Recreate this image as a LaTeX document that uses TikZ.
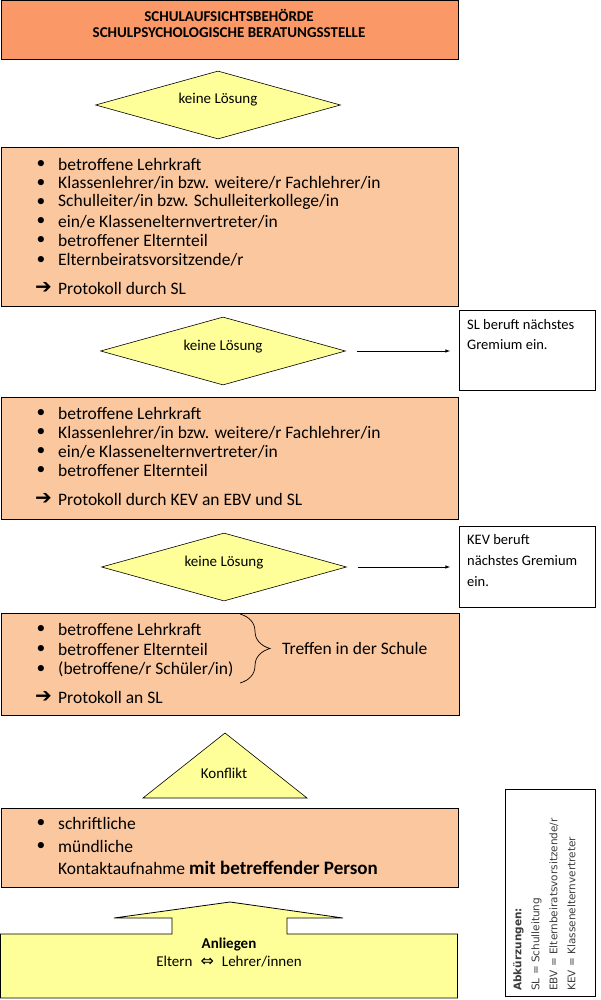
\documentclass[tikz,border=0pt]{standalone}
\usepackage{fontspec}
\setmainfont{Carlito}
\newfontfamily\dejavu{DejaVu Sans}
\usetikzlibrary{shapes.geometric}
\usetikzlibrary{decorations.pathreplacing}
\definecolor{dunkelorange}{RGB}{250,152,103}
\definecolor{hellorange}{RGB}{251,199,158}
\definecolor{hellgelb}{RGB}{255,255,153}
\definecolor{abkgrau}{RGB}{60,60,60}

\begin{document}
\begin{tikzpicture}[x=1pt,y=-1pt,
  kasten/.style={draw=black,line width=0.8pt,anchor=north west,inner sep=0pt},
  raute/.style={diamond,draw=black,line width=0.6pt,fill=hellgelb,inner sep=0pt,minimum width=245pt,minimum height=68pt},
  listtext/.style={anchor=west,inner sep=0pt,font=\fontsize{17.5}{20}\selectfont},
  punkt/.style={inner sep=0pt,font=\fontsize{17.5}{20}\selectfont},
  pfeiltext/.style={anchor=west,inner sep=0pt,font=\dejavu\bfseries\fontsize{20}{22}\selectfont},
  klein/.style={inner sep=0pt,font=\fontsize{15}{18}\selectfont},
  hinweistext/.style={anchor=west,inner sep=0pt,font=\fontsize{14.5}{17}\selectfont}]
\useasboundingbox (0,0) rectangle (601,1000);

% oben
\node[kasten,fill=dunkelorange,minimum width=457pt,minimum height=59pt] (behoerde) at (0.5,0.5) {};
\node[inner sep=0pt,font=\bfseries\fontsize{15}{18}\selectfont] (behoerde1) at (229,15) {SCHULAUFSICHTSBEHÖRDE};
\node[inner sep=0pt,font=\bfseries\fontsize{15}{18}\selectfont] (behoerde2) at (229,33) {SCHULPSYCHOLOGISCHE BERATUNGSSTELLE};

\node[raute] (raute1) at (218,105) {};
\node[klein] (loesung1) at (218,100) {keine Lösung};

% Gremium mit SL
\node[kasten,fill=hellorange,minimum width=457pt,minimum height=159pt] (gremium3) at (0.5,147) {};
\foreach \txt [count=\i] in {betroffene Lehrkraft,Klassenlehrer/in bzw. weitere/r Fachlehrer/in,Schulleiter/in bzw. Schulleiterkollege/in,ein/e Klasseneltern\-vertreter/in,betroffener Elternteil,Elternbeiratsvorsitzende/r}
{
  \node[punkt] at (41,{164+19.2*(\i-1)}) {\textbullet};
  \node[listtext] at (58,{164+19.2*(\i-1)}) {\txt};
}
\node[pfeiltext] (pfeil3) at (35,288) {➔};
\node[listtext] (protokoll3) at (58,288) {Protokoll durch SL};

\node[raute] (raute2) at (223,351) {};
\node[klein] (loesung2) at (223,347) {keine Lösung};
\node[kasten,minimum width=136pt,minimum height=80pt] (hinweis1) at (459,310) {};
\node[hinweistext] at (467,325) {SL beruft nächstes};
\node[hinweistext] at (467,345) {Gremium ein.};
\draw[->,>=latex,line width=0.6pt,shorten <=11pt,shorten >=9pt] (raute2.east) -- (raute2.east -| hinweis1.west);

% Gremium mit KEV
\node[kasten,fill=hellorange,minimum width=457pt,minimum height=122pt] (gremium2) at (0.5,397) {};
\foreach \txt [count=\i] in {betroffene Lehrkraft,Klassenlehrer/in bzw. weitere/r Fachlehrer/in,ein/e Klasseneltern\-vertreter/in,betroffener Elternteil}
{
  \node[punkt] at (41,{413+19.3*(\i-1)}) {\textbullet};
  \node[listtext] at (58,{413+19.3*(\i-1)}) {\txt};
}
\node[pfeiltext] (pfeil2) at (35,499) {➔};
\node[listtext] (protokoll2) at (58,499) {Protokoll durch KEV an EBV und SL};

\node[raute] (raute3) at (224,567) {};
\node[klein] (loesung3) at (224,563) {keine Lösung};
\node[kasten,minimum width=136pt,minimum height=81pt] (hinweis2) at (459,526) {};
\node[hinweistext] at (467,540) {KEV beruft};
\node[hinweistext] at (467,561) {nächstes Gremium};
\node[hinweistext] at (467,582) {ein.};
\draw[->,>=latex,line width=0.6pt,shorten <=11pt,shorten >=9pt] (raute3.east) -- (raute3.east -| hinweis2.west);

% Treffen in der Schule
\node[kasten,fill=hellorange,minimum width=458pt,minimum height=102pt] (gremium1) at (0.5,613) {};
\foreach \txt [count=\i] in {betroffene Lehrkraft,betroffener Elternteil,(betroffene/r Schüler/in)}
{
  \node[punkt] at (41,{629+20*(\i-1)}) {\textbullet};
  \node[listtext] at (58,{629+20*(\i-1)}) {\txt};
}
\draw[line width=0.7pt,decorate,decoration={brace,amplitude=30pt}] (240,614) -- (240,683);
\node[listtext] (treffen) at (282,648) {Treffen in der Schule};
\node[pfeiltext] (pfeil1) at (35,697) {➔};
\node[listtext] (protokoll1) at (58,697) {Protokoll an SL};

% Konflikt
\draw[line width=0.6pt,fill=hellgelb] (143,798) -- (225,733) -- (307,798) -- cycle;
\node[klein] (konflikt) at (224,773) {Konflikt};

\node[kasten,fill=hellorange,minimum width=457pt,minimum height=79pt] (kontakt) at (0.5,808) {};
\node[punkt] at (41,823) {\textbullet};
\node[listtext] at (58,823) {schriftliche};
\node[punkt] at (41,846) {\textbullet};
\node[listtext] at (58,846) {mündliche};
\node[listtext] (kontakttext) at (58,868) {Kontaktaufnahme {\bfseries\fontsize{19}{21}\selectfont mit betreffender Person}};

% Anliegen
\draw[line width=0.8pt,fill=hellgelb] (0.5,934) -- (172,934) -- (172,918) -- (114,918) -- (230,902) -- (343,918) -- (287,918) -- (287,934) -- (457.5,934) -- (457.5,998) -- (0.5,998) -- cycle;
\node[inner sep=0pt,font=\bfseries\fontsize{15}{18}\selectfont] (anliegen) at (229,944) {Anliegen};
\node[klein] (beteiligte) at (229,962) {Eltern\hspace{8pt}{\dejavu\fontsize{16}{18}\selectfont ⇔}\hspace{8pt}Lehrer/innen};

% Abkuerzungen
\node[kasten,minimum width=90pt,minimum height=207pt] (abk) at (505,789) {};
\node[rotate=90,anchor=north west,align=left,inner sep=0pt,text=abkgrau,font=\dejavu\fontsize{10.5}{18}\selectfont] (abktext) at (513,991) {\textbf{Abkürzungen:}\\SL = Schulleitung\\EBV = Elternbeiratsvorsitzende/r\\KEV = Klassenelternvertreter};
\end{tikzpicture}
\end{document}
